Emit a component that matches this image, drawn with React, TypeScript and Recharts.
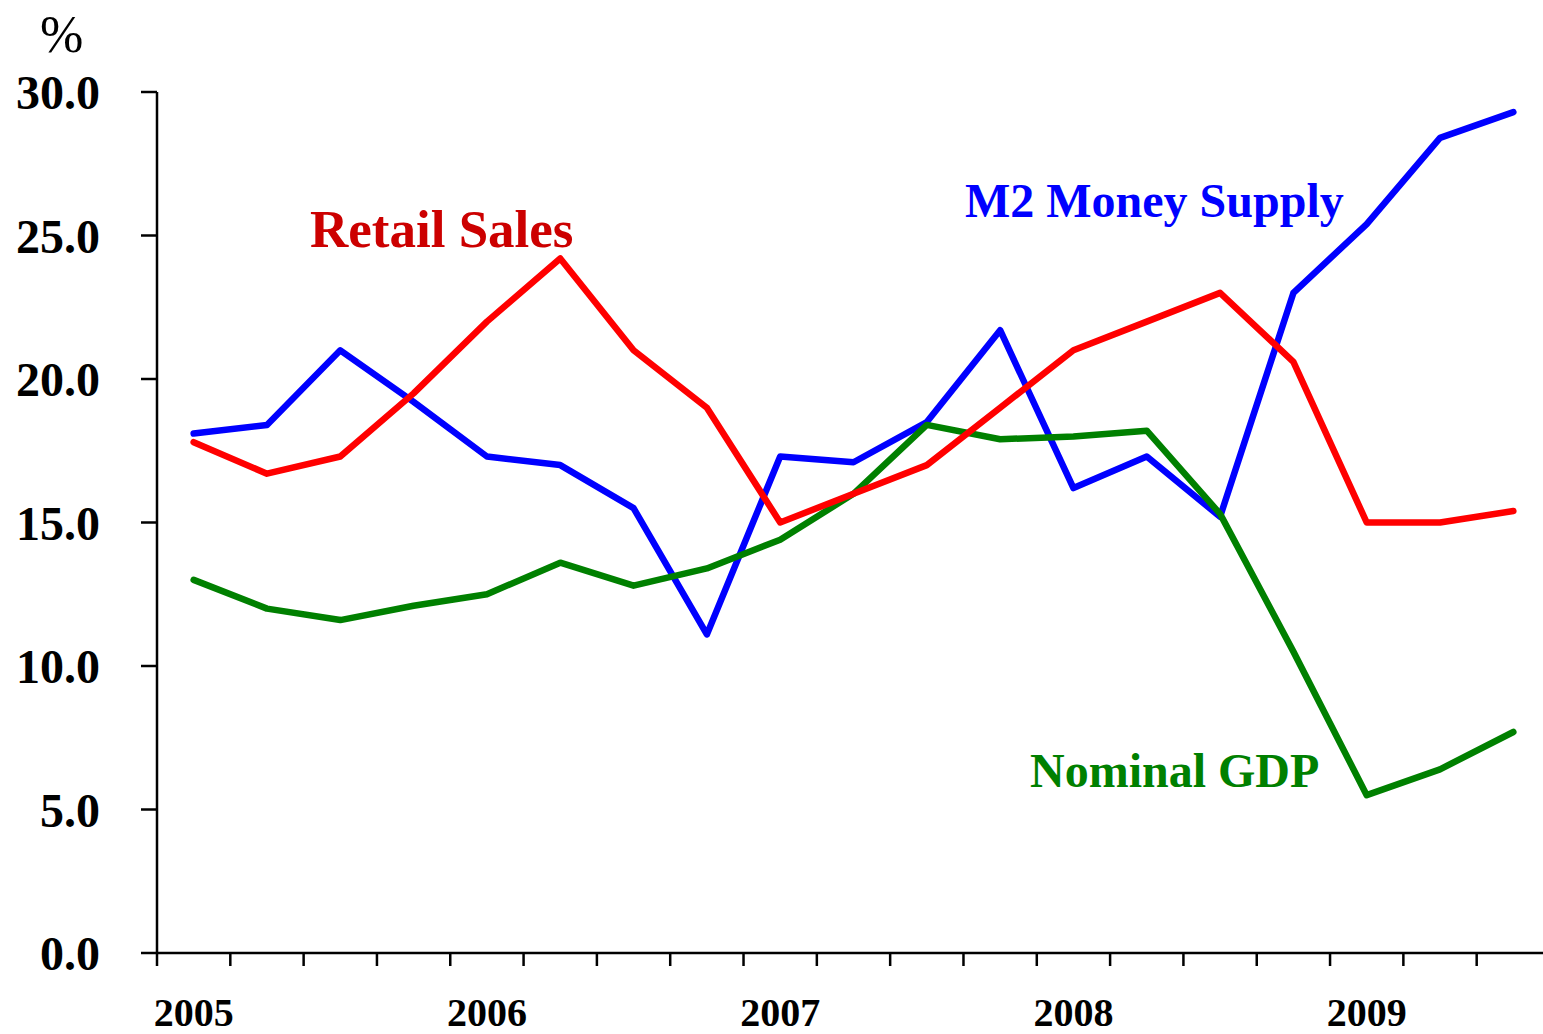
import { LineChart, Line, XAxis, YAxis } from "recharts";

// quarterly, 2005Q1 .. 2009Q3, % y/y
const quarters = [
  "2005Q1", "2005Q2", "2005Q3", "2005Q4",
  "2006Q1", "2006Q2", "2006Q3", "2006Q4",
  "2007Q1", "2007Q2", "2007Q3", "2007Q4",
  "2008Q1", "2008Q2", "2008Q3", "2008Q4",
  "2009Q1", "2009Q2", "2009Q3",
];

const m2Supply = [
  18.1, 18.4, 21.0, 19.2, 17.3, 17.0, 15.5, 11.1, 17.3, 17.1,
  18.5, 21.7, 16.2, 17.3, 15.2, 23.0, 25.4, 28.4, 29.3,
];
const retailSales = [
  17.8, 16.7, 17.3, 19.5, 22.0, 24.2, 21.0, 19.0, 15.0, 16.0,
  17.0, 19.0, 21.0, 22.0, 23.0, 20.6, 15.0, 15.0, 15.4,
];
const nominalGdp = [
  13.0, 12.0, 11.6, 12.1, 12.5, 13.6, 12.8, 13.4, 14.4, 16.0,
  18.4, 17.9, 18.0, 18.2, 15.3, 10.5, 5.5, 6.4, 7.7,
];

const yTicks = [0, 5, 10, 15, 20, 25, 30];
const yearTicks = [0, 4, 8, 12, 16];

const data = quarters.map((q, i) => ({
  x: i,
  quarter: q,
  m2: m2Supply[i],
  retail: retailSales[i],
  gdp: nominalGdp[i],
}));

// tick marks sit on the quarter boundaries, labels on the Q1 points
const quarterEdges = [...quarters.map((_, i) => i - 0.5), quarters.length - 0.5];

const FONT = '"Liberation Serif", "Times New Roman", serif';

export default function App() {
  return (
    <div
      style={{
        position: "absolute",
        left: 0,
        top: 0,
        width: 1543,
        height: 1034,
        overflow: "hidden",
        background: "#fff",
        fontFamily: FONT,
      }}
    >
      <LineChart
        width={1552}
        height={1034}
        data={data}
        margin={{ top: 92, right: 2, bottom: 0, left: 0 }}
      >
        <XAxis
          xAxisId="q"
          dataKey="x"
          type="number"
          domain={[-0.5, quarters.length - 0.5]}
          ticks={quarterEdges}
          tickFormatter={() => ""}
          interval={0}
          height={1}
          tickSize={13}
          stroke="#000"
          strokeWidth={2.5}
          axisLine={{ stroke: "#000", strokeWidth: 2.5 }}
          tickLine={{ stroke: "#000", strokeWidth: 2.5 }}
        />
        <XAxis
          xAxisId="yr"
          dataKey="x"
          type="number"
          domain={[-0.5, quarters.length - 0.5]}
          ticks={yearTicks}
          interval={0}
          tickFormatter={(v: number) => quarters[v].slice(0, 4)}
          height={80}
          tickSize={0}
          tickMargin={44}
          axisLine={false}
          tickLine={false}
          tick={{ fill: "#000", fontSize: 40, fontWeight: "bold", fontFamily: FONT }}
        />
        <YAxis
          width={157}
          domain={[0, 30]}
          ticks={yTicks}
          interval={0}
          tickFormatter={(v: number) => v.toFixed(1)}
          tickSize={16}
          tickMargin={41}
          stroke="#000"
          strokeWidth={2.5}
          axisLine={{ stroke: "#000", strokeWidth: 2.5 }}
          tickLine={{ stroke: "#000", strokeWidth: 2.5 }}
          tick={{ fill: "#000", fontSize: 48, fontWeight: "bold", fontFamily: FONT }}
        />
        <Line
          xAxisId="q"
          dataKey="m2"
          stroke="#0000ff"
          strokeWidth={6.5}
          strokeLinecap="round"
          strokeLinejoin="round"
          dot={false}
          isAnimationActive={false}
        />
        <Line
          xAxisId="q"
          dataKey="gdp"
          stroke="#008000"
          strokeWidth={6.5}
          strokeLinecap="round"
          strokeLinejoin="round"
          dot={false}
          isAnimationActive={false}
        />
        <Line
          xAxisId="q"
          dataKey="retail"
          stroke="#ff0000"
          strokeWidth={6.5}
          strokeLinecap="round"
          strokeLinejoin="round"
          dot={false}
          isAnimationActive={false}
        />
        <text x={40} y={52} fontSize={52} fill="#000" fontFamily={FONT}>%</text>
        <text x={310} y={247} fontSize={53} fontWeight="bold" fill="#cc0000" fontFamily={FONT}>
          Retail Sales
        </text>
        <text x={965} y={217} fontSize={48} fontWeight="bold" fill="#0000ff" fontFamily={FONT}>
          M2 Money Supply
        </text>
        <text x={1030} y={787} fontSize={48} fontWeight="bold" fill="#008000" fontFamily={FONT}>
          Nominal GDP
        </text>
      </LineChart>
    </div>
  );
}
